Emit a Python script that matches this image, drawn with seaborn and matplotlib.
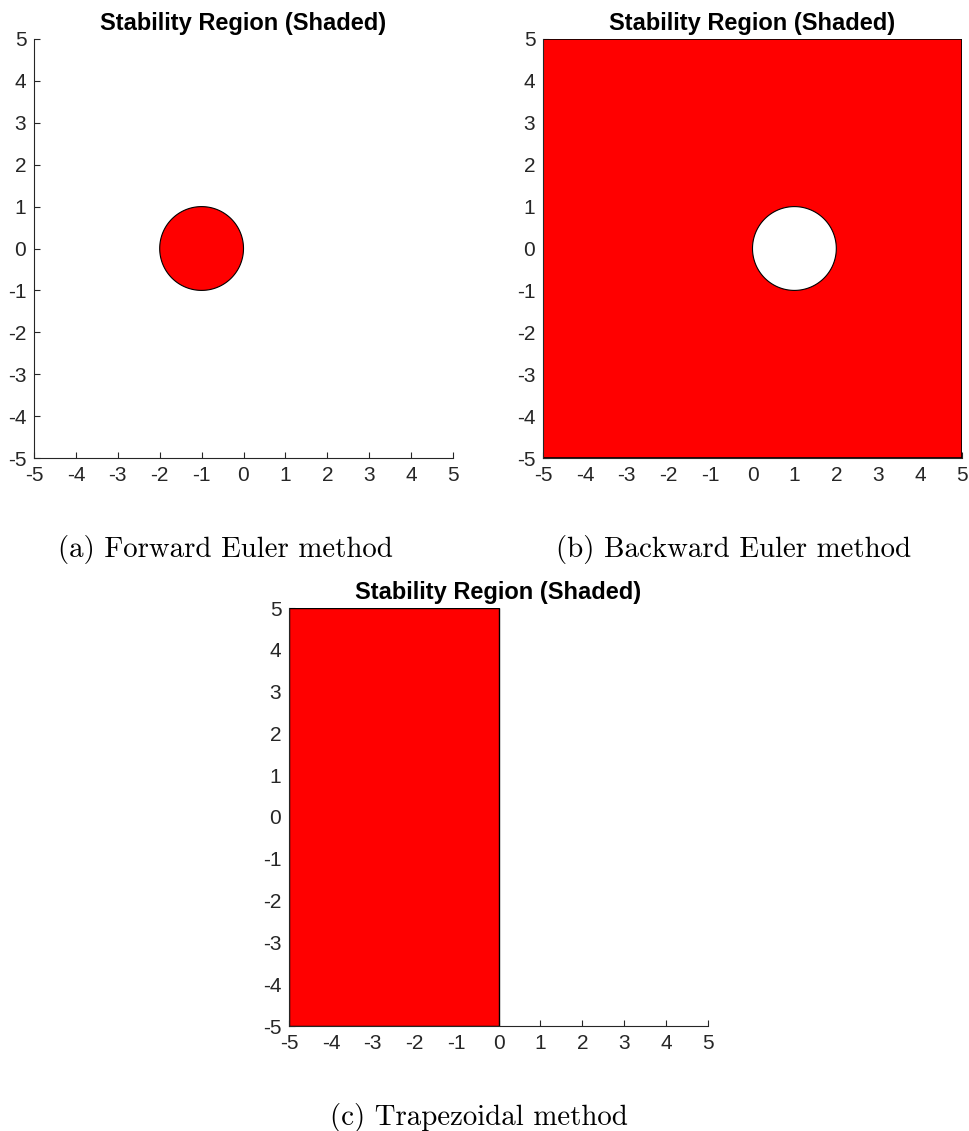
import numpy as np
import matplotlib
matplotlib.use("Agg")
import matplotlib.pyplot as plt
import seaborn as sns

# Region geometry (complex plane, h*lambda)
axis_ticks = [-5, -4, -3, -2, -1, 0, 1, 2, 3, 4, 5]
plot_limits = [-5, 5]
forward_center = [-1.0, 0.0]
forward_radius = 1.0
backward_center = [1.0, 0.0]
backward_radius = 1.0
trap_x = [-5, 0, 0, -5]
trap_y = [-5, -5, 5, 5]

titles = ["Stability Region (Shaded)"] * 3
captions = ["(a) Forward Euler method", "(b) Backward Euler method", "(c) Trapezoidal method"]

sns.set_theme(style="ticks")
plt.rcParams["font.family"] = ["Liberation Sans", "DejaVu Sans"]
plt.rcParams["xtick.direction"] = "in"
plt.rcParams["ytick.direction"] = "in"

W, H = 969, 1131
fig = plt.figure(figsize=(W / 100, H / 100), dpi=100)

def px_axes(left, top, right, bottom):
    return fig.add_axes([left / W, 1 - bottom / H, (right - left) / W, (bottom - top) / H])

ax_a = px_axes(34, 39, 453, 458)
ax_b = px_axes(543, 39, 962, 458)
ax_c = px_axes(289, 608, 708, 1026)

RED = "#ff0000"
theta = np.linspace(0, 2 * np.pi, 400)

def circle_xy(center, r):
    return center[0] + r * np.cos(theta), center[1] + r * np.sin(theta)

# (a) Forward Euler: |1 + z| <= 1
cx, cy = circle_xy(forward_center, forward_radius)
ax_a.fill(cx, cy, facecolor=RED, edgecolor="black", linewidth=0.8, zorder=2)

# (b) Backward Euler: |1 - z| >= 1
sq = plot_limits
ax_b.fill([sq[0], sq[1], sq[1], sq[0]], [sq[0], sq[0], sq[1], sq[1]],
          facecolor=RED, edgecolor="black", linewidth=1.2, zorder=2)
bx, by = circle_xy(backward_center, backward_radius)
ax_b.fill(bx, by, facecolor="white", edgecolor="black", linewidth=0.8, zorder=3)

# (c) Trapezoidal: Re(z) <= 0
ax_c.fill(trap_x, trap_y, facecolor=RED, edgecolor="black", linewidth=1.0, zorder=2)

for ax, title in zip([ax_a, ax_b, ax_c], titles):
    ax.set_xlim(plot_limits)
    ax.set_ylim(plot_limits)
    ax.set_xticks(axis_ticks)
    ax.set_yticks(axis_ticks)
    ax.set_xticklabels([str(t) for t in axis_ticks])
    ax.set_yticklabels([str(t) for t in axis_ticks])
    ax.tick_params(labelsize=15, colors="#262626", length=4, width=0.8, pad=5.5)
    sns.despine(ax=ax)
    for s in ["left", "bottom"]:
        ax.spines[s].set_color("#262626")
        ax.spines[s].set_linewidth(0.8)
        ax.spines[s].set_zorder(4)
    ax.set_title(title, fontsize=17, fontweight="bold", color="black", pad=6.5)
    ax.set_facecolor("white")

cap_pos = [(225, 550), (734, 550), (479, 1117)]
for (x, y), cap in zip(cap_pos, captions):
    fig.text(x / W, 1 - y / H, cap, ha="center", va="center",
             fontsize=20.8, family=["cmr10", "DejaVu Serif"], color="black")

fig.savefig("out.png", dpi=100, facecolor="white")
